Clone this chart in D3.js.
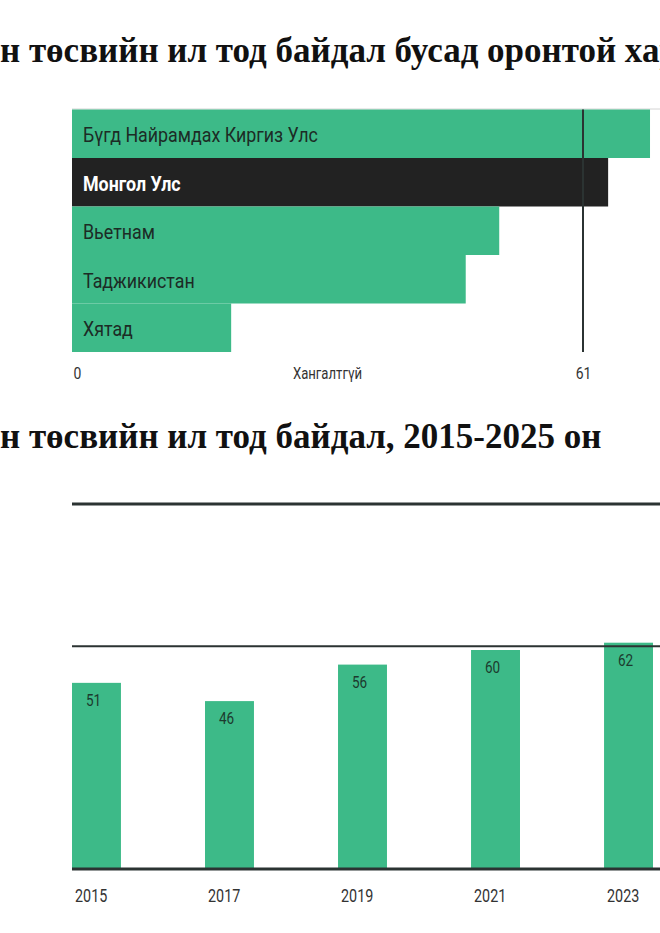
<!DOCTYPE html>
<html>
<head>
<meta charset="utf-8">
<script src="https://cdn.jsdelivr.net/npm/d3@7"></script>
<style>
  body { margin: 0; background: #fff; overflow: hidden; }
  svg { display: block; }
  .narrow { font-family: Roboto, "Liberation Sans", sans-serif; }
  .title { font-family: "Liberation Serif", "Times New Roman", serif; font-weight: bold; fill: #111; }
</style>
</head>
<body>
<div id="chart"></div>
<script>
/* DATA */
const countries = ["Бүгд Найрамдах Киргиз Улс", "Монгол Улс", "Вьетнам", "Таджикистан", "Хятад"];
const countryScores = [69, 64, 51, 47, 19];
const highlightCountry = "Монгол Улс";
const thresholdTicks = [0, 61];
const thresholdLabel = "Хангалтгүй";

const years = ["2015", "2017", "2019", "2021", "2023"];
const yearScores = [51, 46, 56, 60, 62];
const yearGridLines = [0, 61, 100];

const title1 = "н төсвийн ил тод байдал бусад оронтой харьцуулахад";
const title2 = "н төсвийн ил тод байдал, 2015-2025 он";

/* CONSTANTS */
const width = 660, height = 933;
const green = "#3dba88", dark = "#222222", lineColor = "#2b3332";
const squeeze = 0.82; // the original uses a condensed face

const svg = d3.select("#chart").append("svg")
  .attr("width", width)
  .attr("height", height);

// titles
svg.append("text").attr("class", "title")
  .attr("x", 0).attr("y", 62)
  .attr("font-size", 35)
  .text(title1);

svg.append("text").attr("class", "title")
  .attr("x", 0).attr("y", 448)
  .attr("font-size", 35)
  .text(title2);

/* TOP CHART: horizontal bars */
const xTop = d3.scaleLinear()
  .domain([0, 61])
  .range([72, 583]);

const yTop = d3.scaleBand()
  .domain(countries)
  .range([109.5, 352])
  .padding(0);

const topData = countries.map((c, i) => ({ name: c, value: countryScores[i] }));

// light top rule
svg.append("line")
  .attr("x1", 72).attr("x2", width)
  .attr("y1", yTop.range()[0] - 0.5).attr("y2", yTop.range()[0] - 0.5)
  .attr("stroke", "#d4d4d4").attr("stroke-width", 1);

svg.append("g").selectAll("rect")
  .data(topData)
  .join("rect")
  .attr("x", xTop(0))
  .attr("y", d => yTop(d.name))
  .attr("width", d => xTop(d.value) - xTop(0))
  .attr("height", yTop.bandwidth())
  .attr("fill", d => d.name === highlightCountry ? dark : green);

svg.append("g").selectAll("text")
  .data(topData)
  .join("text")
  .attr("class", "narrow")
  .attr("transform", d => `translate(83, ${yTop(d.name) + yTop.bandwidth() / 2 + 8.5}) scale(0.85,1)`)
  .attr("font-size", 21)
  .attr("font-weight", d => d.name === highlightCountry ? "bold" : "normal")
  .attr("fill", d => d.name === highlightCountry ? "#fff" : "#1c2b25")
  .text(d => d.name);

// threshold line at 61
svg.append("line")
  .attr("x1", xTop(61)).attr("x2", xTop(61))
  .attr("y1", yTop.range()[0]).attr("y2", yTop.range()[1])
  .attr("stroke", lineColor).attr("stroke-width", 2);

// bottom axis (0, 61)
const xAxisTop = d3.axisBottom(xTop)
  .tickValues(thresholdTicks)
  .tickSize(0)
  .tickFormat(d3.format("d"));

const gAxTop = svg.append("g")
  .attr("transform", `translate(0, ${yTop.range()[1]})`)
  .call(xAxisTop);
gAxTop.select(".domain").remove();
gAxTop.selectAll("text")
  .attr("class", "narrow")
  .attr("font-size", 17)
  .attr("fill", "#333")
  .attr("y", null).attr("dy", null)
  .attr("text-anchor", d => d === 0 ? "start" : "middle")
  .attr("transform", d => `translate(${d === 0 ? 1 : 0}, 27) scale(${squeeze},1)`);

svg.append("text")
  .attr("class", "narrow")
  .attr("transform", `translate(${xTop(30.5)}, 379) scale(${squeeze},1)`)
  .attr("text-anchor", "middle")
  .attr("font-size", 16)
  .attr("fill", "#333")
  .text(thresholdLabel);

/* BOTTOM CHART: vertical bars by year */
const xBot = d3.scaleBand()
  .domain(years)
  .range([72, 653])
  .paddingInner(0.632)
  .paddingOuter(0);

const yBot = d3.scaleLinear()
  .domain([0, 100])
  .range([869, 504]);

const botData = years.map((y, i) => ({ year: y, value: yearScores[i] }));

svg.append("g").selectAll("rect")
  .data(botData)
  .join("rect")
  .attr("x", d => xBot(d.year))
  .attr("y", d => yBot(d.value))
  .attr("width", xBot.bandwidth())
  .attr("height", d => yBot(0) - yBot(d.value))
  .attr("fill", green);

// gridlines
svg.append("g").selectAll("line")
  .data(yearGridLines)
  .join("line")
  .attr("x1", 72).attr("x2", width)
  .attr("y1", d => yBot(d)).attr("y2", d => yBot(d))
  .attr("stroke", lineColor)
  .attr("stroke-width", d => d === 61 ? 2 : 3);

// value labels
svg.append("g").selectAll("text")
  .data(botData)
  .join("text")
  .attr("class", "narrow")
  .attr("transform", d => `translate(${xBot(d.year) + xBot.bandwidth() / 2 - 3}, ${yBot(d.value) + 23}) scale(${squeeze},1)`)
  .attr("text-anchor", "middle")
  .attr("font-size", 16.5)
  .attr("fill", "#1c3a2e")
  .text(d => d.value);

// year axis
const xAxisBot = d3.axisBottom(xBot).tickSize(0);
const gAxBot = svg.append("g")
  .attr("transform", `translate(0, ${yBot(0)})`)
  .call(xAxisBot);
gAxBot.select(".domain").remove();
gAxBot.selectAll("text")
  .attr("class", "narrow")
  .attr("font-size", 17.5)
  .attr("fill", "#333")
  .attr("text-anchor", "start")
  .attr("y", null).attr("dy", null)
  .attr("transform", `translate(${-xBot.bandwidth() / 2 + 3}, 33) scale(${squeeze},1)`);
</script>
</body>
</html>
